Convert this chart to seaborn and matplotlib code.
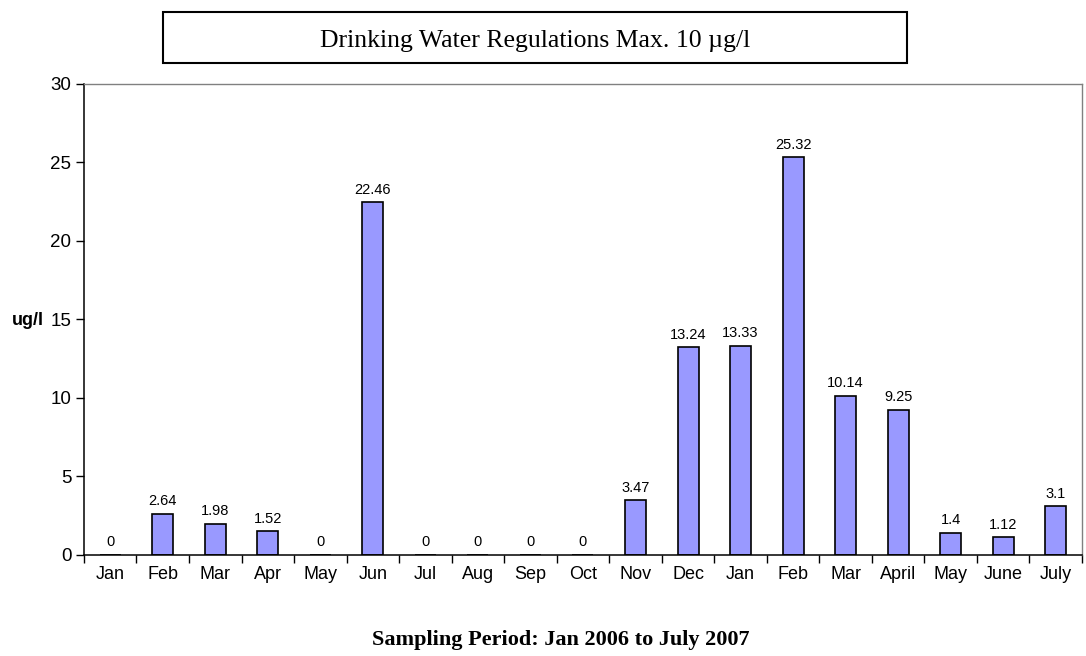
import matplotlib
matplotlib.use("Agg")
import matplotlib.pyplot as plt
from matplotlib.patches import Rectangle
import seaborn as sns
import pandas as pd

# sampling months, Jan 2006 .. July 2007
periods = ['2006-01', '2006-02', '2006-03', '2006-04', '2006-05', '2006-06',
           '2006-07', '2006-08', '2006-09', '2006-10', '2006-11', '2006-12',
           '2007-01', '2007-02', '2007-03', '2007-04', '2007-05', '2007-06',
           '2007-07']
month_labels = ['Jan', 'Feb', 'Mar', 'Apr', 'May', 'Jun', 'Jul', 'Aug', 'Sep',
                'Oct', 'Nov', 'Dec', 'Jan', 'Feb', 'Mar', 'April', 'May',
                'June', 'July']
values = [0, 2.64, 1.98, 1.52, 0, 22.46, 0, 0, 0, 0, 3.47, 13.24, 13.33,
          25.32, 10.14, 9.25, 1.4, 1.12, 3.1]
y_ticks = [0, 5, 10, 15, 20, 25, 30]

df = pd.DataFrame({'period': periods, 'value': values})

sns.set_style('white')
plt.rcParams['font.family'] = ['Liberation Sans', 'DejaVu Sans']
plt.rcParams['text.color'] = 'black'
plt.rcParams['xtick.color'] = 'black'
plt.rcParams['ytick.color'] = 'black'

fig = plt.figure(figsize=(10.86, 6.56), dpi=100)
ax = fig.add_axes([0.0773, 0.154, 0.919, 0.718])

sns.barplot(data=df, x='period', y='value', order=periods, color='#9999FF',
            saturation=1, width=0.4, edgecolor='black', linewidth=1.2, ax=ax)

for c in ax.containers:
    ax.bar_label(c, labels=[f'{v:g}' for v in values], padding=4,
                 fontsize=10.5, color='black')

n = len(periods)
ax.set_xlim(-0.5, n - 0.5)
ax.set_ylim(0, 30)
ax.set_yticks(y_ticks)
ax.tick_params(axis='y', labelsize=13.5, length=6, width=1, direction='out',
               left=True, pad=3, labelcolor='black')
# ticks between categories, labels centred under bars
ax.set_xticks([i - 0.5 for i in range(n + 1)])
ax.set_xticklabels([])
ax.set_xticks(range(n), minor=True)
ax.set_xticklabels(month_labels, minor=True, fontsize=13)
ax.tick_params(axis='x', which='major', length=6, width=1, direction='out',
               bottom=True)
ax.tick_params(axis='x', which='minor', length=0, pad=8, labelcolor='black')
ax.set_xlabel('')
ax.set_ylabel('')

for s in ['left', 'bottom']:
    ax.spines[s].set_color('black')
    ax.spines[s].set_linewidth(1.1)
for s in ['top', 'right']:
    ax.spines[s].set_color('#808080')
    ax.spines[s].set_linewidth(1)

fig.text(0.026, 0.512, 'ug/l', fontsize=13, fontweight='bold',
         ha='center', va='center')

# box with the regulation note
fig.patches.append(Rectangle((0.150, 0.904), 0.685, 0.0777,
                             transform=fig.transFigure, fill=False,
                             edgecolor='black', linewidth=1.5))
fig.text(0.4926, 0.938, 'Drinking Water Regulations Max. 10 \u00b5g/l',
         fontsize=18.5, family=['Liberation Serif', 'DejaVu Serif'],
         ha='center', va='center')

fig.text(0.516, 0.024, 'Sampling Period: Jan 2006 to July 2007',
         fontsize=16, fontweight='bold',
         family=['Liberation Serif', 'DejaVu Serif'],
         ha='center', va='center')

fig.savefig('out.png', dpi=100)
